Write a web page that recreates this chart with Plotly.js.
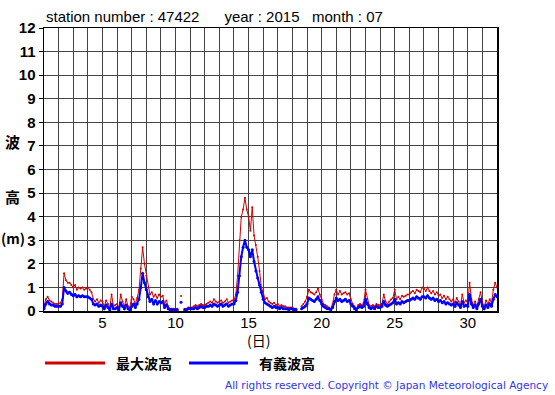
<!DOCTYPE html>
<html><head><meta charset="utf-8">
<script src="https://cdn.plot.ly/plotly-3.0.1.min.js"></script>
<style>body{margin:0;background:#fff}#c{width:555px;height:395px}</style>
</head><body><div id="c"></div>
<script>
// 3-hourly wave heights (m), July 2015, station 47422
const stepsPerDay = 8;
const sigWave = [ // 有義波高
0.10,0.30,0.40,0.30,0.25,0.25,0.20,0.20,
0.20,0.20,0.30,1.00,0.85,0.75,0.80,0.70,
0.65,0.70,0.60,0.65,0.60,0.65,0.60,0.60,
0.60,0.55,0.50,0.30,0.25,0.30,0.20,0.25,
0.20,0.10,0.25,0.15,0.05,0.30,0.10,0.10,
0.15,0.05,0.35,0.20,0.10,0.25,0.10,0.05,
0.20,0.30,0.15,0.30,0.50,1.00,1.60,1.20,
0.90,0.60,0.40,0.50,0.30,0.45,0.30,0.40,
0.35,0.40,0.15,0.25,0.10,0.05,0.05,0.05,
0.05,0.05,null,0.37,null,0.05,0.05,0.10,
0.10,0.10,0.10,0.15,0.10,0.15,0.20,0.15,
0.15,0.20,0.20,0.25,0.20,0.30,0.25,0.20,
0.25,0.30,0.20,0.25,0.30,0.20,0.25,0.30,
0.30,0.45,0.80,1.50,2.30,2.70,3.00,2.70,
2.60,2.30,2.60,2.10,1.70,1.40,1.10,0.80,
0.50,0.35,0.30,0.25,0.20,0.15,0.20,0.15,
0.15,0.10,0.15,0.10,0.10,0.10,0.05,0.10,
0.10,0.05,0.05,null,null,0.10,0.15,0.20,
0.30,0.55,0.50,0.45,0.40,0.50,0.60,0.45,
0.30,0.20,0.15,0.10,0.10,0.05,0.15,0.40,
0.55,0.45,0.50,0.40,0.45,0.50,0.40,0.45,
0.30,0.20,0.10,0.05,0.15,0.20,0.15,0.20,
0.50,0.30,0.15,0.10,0.15,0.10,0.20,0.15,
0.15,0.20,0.40,0.25,0.20,0.25,0.30,0.35,
0.50,0.30,0.35,0.30,0.40,0.35,0.40,0.45,
0.45,0.50,0.55,0.50,0.60,0.55,0.50,0.60,
0.60,0.55,0.65,0.55,0.50,0.55,0.45,0.50,
0.40,0.45,0.35,0.40,0.30,0.35,0.30,0.25,
0.30,0.20,0.35,0.25,0.15,0.40,0.20,0.25,
0.20,0.70,0.30,0.15,0.25,0.10,0.30,0.50,
0.20,0.10,0.25,0.15,0.30,0.20,0.50,0.70,
0.60];
const maxWave = [ // 最大波高
0.20,0.50,0.60,0.45,0.40,0.35,0.30,0.30,
0.30,0.35,0.50,1.60,1.30,1.20,1.20,1.10,
1.00,1.10,0.90,1.00,0.95,1.00,0.90,0.95,
1.00,0.90,0.80,0.50,0.40,0.50,0.35,0.45,
0.40,0.20,0.45,0.30,0.15,0.70,0.20,0.25,
0.30,0.15,0.70,0.40,0.20,0.50,0.20,0.15,
0.60,0.50,0.30,0.55,0.90,1.80,2.70,2.00,
1.50,1.00,0.70,0.80,0.60,0.70,0.55,0.70,
0.60,0.65,0.30,0.45,0.20,0.10,0.10,0.10,
0.10,0.10,null,0.64,null,0.10,0.10,0.15,
0.15,0.15,0.20,0.25,0.20,0.25,0.30,0.25,
0.25,0.30,0.35,0.40,0.35,0.50,0.40,0.35,
0.40,0.45,0.35,0.40,0.50,0.35,0.40,0.45,
0.45,0.70,1.50,3.00,4.00,4.30,4.80,4.30,
4.00,3.40,4.40,3.20,2.80,2.30,1.70,1.00,
0.80,0.50,0.55,0.40,0.35,0.30,0.35,0.25,
0.30,0.20,0.25,0.20,0.20,0.15,0.15,0.15,
0.15,0.10,0.10,null,null,0.20,0.30,0.40,
0.60,0.90,0.80,0.75,0.70,0.80,0.95,0.70,
0.50,0.30,0.25,0.20,0.15,0.10,0.30,0.70,
0.90,0.70,0.85,0.70,0.75,0.80,0.70,0.75,
0.50,0.30,0.20,0.10,0.25,0.30,0.25,0.35,
0.90,0.50,0.25,0.20,0.25,0.20,0.30,0.25,
0.25,0.30,0.70,0.40,0.30,0.40,0.50,0.55,
0.90,0.50,0.60,0.50,0.65,0.60,0.65,0.70,
0.70,0.80,0.85,0.75,0.90,0.85,0.80,1.00,
0.95,0.85,1.00,0.85,0.75,0.85,0.70,0.80,
0.65,0.70,0.55,0.65,0.50,0.60,0.50,0.40,
0.50,0.35,0.55,0.40,0.25,0.70,0.35,0.45,
0.35,1.20,0.50,0.25,0.40,0.20,0.50,0.80,
0.35,0.20,0.45,0.30,0.50,0.35,0.90,1.20,
1.00];
const xTickVals = [5,10,15,20,25,30];
const xTickText = ['5','10','15','20','25','30'];
const yTickVals = [0,1,2,3,4,5,6,7,8,9,10,11,12];
const legendNames = ['最大波高','有義波高'];
const titleText = 'station number : 47422&nbsp;&nbsp;&nbsp;&nbsp;&nbsp;&nbsp;year : 2015&nbsp;&nbsp;&nbsp;month : 07';

const days = maxWave.map((_, i) => 1 + i / stepsPerDay);

const W = 555, H = 395, L = 44, R = 497, T = 28, B = 311;
const px = x => (x - L) / (R - L);
const py = y => (B - y) / (B - T);
const jp = 'Noto Sans CJK JP, sans-serif';

const traces = [
  {x: days, y: maxWave, type: 'scatter', mode: 'lines+markers', marker: {size: 2, color: '#d00000'}, line: {color: '#d00000', width: 1}, connectgaps: false, hoverinfo: 'skip'},
  {x: days, y: sigWave, type: 'scatter', mode: 'lines+markers', marker: {size: 3, color: '#0000ff'}, line: {color: '#0000ff', width: 2}, connectgaps: false, hoverinfo: 'skip'}
];

const layout = {
  width: W, height: H,
  margin: {l: L, r: W - R, t: T, b: H - B, pad: 0},
  paper_bgcolor: '#fff', plot_bgcolor: '#fff',
  showlegend: false,
  xaxis: {
    range: [1, 32], tickvals: xTickVals, ticktext: xTickText,
    showgrid: true, gridcolor: '#444', gridwidth: 1,
    minor: {dtick: 1, tick0: 1, showgrid: true, gridcolor: '#444', gridwidth: 1},
    ticks: '', showline: true, linecolor: '#000', linewidth: 1.5, mirror: true,
    zeroline: false, ticklabelstandoff: -3,
    tickfont: {family: 'Liberation Sans, Arial, sans-serif', size: 15, color: '#000'}
  },
  yaxis: {
    range: [0, 12], tickvals: yTickVals,
    showgrid: true, gridcolor: '#444', gridwidth: 1,
    ticks: 'outside', ticklen: 4, tickcolor: '#000',
    showline: true, linecolor: '#000', linewidth: 1.5, mirror: true, zeroline: false,
    tickfont: {family: 'Liberation Sans, Arial, sans-serif', size: 15, color: '#000', weight: 'bold'}
  },
  annotations: [
    {text: titleText, xref: 'paper', yref: 'paper', x: px(44), y: py(17), xanchor: 'left', yanchor: 'middle', showarrow: false,
     font: {family: 'Liberation Sans, Arial, sans-serif', size: 15, color: '#000'}},
    {text: '波', xref: 'paper', yref: 'paper', x: px(12), y: py(141), xanchor: 'center', yanchor: 'middle', showarrow: false,
     font: {family: jp, size: 15, color: '#000', weight: 'bold'}},
    {text: '高', xref: 'paper', yref: 'paper', x: px(12), y: py(196), xanchor: 'center', yanchor: 'middle', showarrow: false,
     font: {family: jp, size: 15, color: '#000', weight: 'bold'}},
    {text: '(m)', xref: 'paper', yref: 'paper', x: px(13), y: py(238), xanchor: 'center', yanchor: 'middle', showarrow: false,
     font: {family: jp, size: 14, color: '#000', weight: 'bold'}},
    {text: '(日)', xref: 'paper', yref: 'paper', x: px(258), y: py(340), xanchor: 'center', yanchor: 'middle', showarrow: false,
     font: {family: jp, size: 14, color: '#000'}},
    {text: legendNames[0], xref: 'paper', yref: 'paper', x: px(114), y: py(363), xanchor: 'left', yanchor: 'middle', showarrow: false,
     font: {family: jp, size: 14, color: '#000', weight: 'bold'}},
    {text: legendNames[1], xref: 'paper', yref: 'paper', x: px(257), y: py(363), xanchor: 'left', yanchor: 'middle', showarrow: false,
     font: {family: jp, size: 14, color: '#000', weight: 'bold'}},
    {text: 'All rights reserved. Copyright © Japan Meteorological Agency', xref: 'paper', yref: 'paper', x: px(550), y: py(385), xanchor: 'right', yanchor: 'middle', showarrow: false,
     font: {family: 'DejaVu Sans, sans-serif', size: 10.5, color: '#3333ee'}}
  ],
  shapes: [
    {type: 'line', xref: 'paper', yref: 'paper', x0: px(45), x1: px(105), y0: py(363), y1: py(363), line: {color: '#d00000', width: 3}},
    {type: 'line', xref: 'paper', yref: 'paper', x0: px(189), x1: px(248), y0: py(363), y1: py(363), line: {color: '#0000ff', width: 3}}
  ]
};

Plotly.newPlot('c', traces, layout, {staticPlot: true, displayModeBar: false});
</script>
</body></html>
